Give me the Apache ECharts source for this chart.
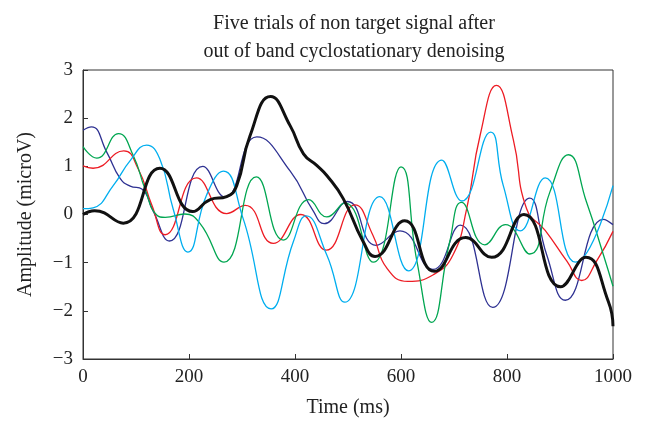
<!DOCTYPE html>
<html>
<head>
<meta charset="utf-8">
<script src="https://cdn.jsdelivr.net/npm/echarts@6/dist/echarts.min.js"></script>
<style>
  html, body { margin: 0; padding: 0; background: #fff; }
  #chart { width: 648px; height: 423px; }
</style>
</head>
<body>
<div id="chart"></div>
<script>
// Five denoised trials, sampled as [time (ms), amplitude (microV)]
const trialNavy = [[0,1.75],[16,1.82],[45,1.29],[70,0.75],[89,0.59],[111,0.53],[132,0.08],[163,-0.55],[226,1.0],[268,0.36],[328,1.61],[391,0.90],[434,0.08],[455,-0.19],[499,0.27],[553,-0.64],[598,-0.34],[660,-1.14],[712,-0.22],[773,-1.93],[843,0.34],[875,-0.84],[910,-1.78],[982,-0.1],[1000,-0.21]];
const trialRed = [[0,1.01],[19,0.96],[77,1.32],[104,0.95],[130,0.19],[155,-0.42],[214,0.76],[271,0.02],[306,0.19],[359,-0.6],[411,0.0],[459,-0.74],[513,0.2],[547,-0.43],[573,-1.11],[613,-1.39],[661,-1.25],[698,-0.84],[724,0.12],[749,1.63],[780,2.68],[812,1.55],[837,0.12],[872,-0.33],[913,-0.97],[941,-1.37],[969,-0.97],[1000,-0.35]];
const trialGreen = [[0,1.41],[26,1.17],[67,1.68],[95,1.22],[117,0.53],[139,-0.01],[155,-0.06],[192,0.01],[221,-0.19],[266,-0.99],[327,0.78],[378,-0.53],[426,0.31],[460,-0.05],[494,0.24],[548,-0.99],[600,0.99],[630,-0.97],[658,-2.24],[692,-0.56],[714,0.25],[758,-0.63],[797,-0.21],[843,-0.82],[881,0.47],[916,1.24],[950,0.26],[982,-0.84],[1000,-1.49]];
const trialCyan = [[0,0.12],[19,0.14],[57,0.6],[89,1.12],[120,1.44],[145,1.15],[170,0.12],[198,-0.78],[233,0.4],[265,0.9],[302,-0.08],[355,-1.96],[397,-0.56],[421,-0.03],[460,-0.84],[494,-1.82],[560,0.37],[614,-1.17],[677,1.13],[715,0.28],[769,1.71],[793,0.6],[825,-0.34],[872,0.76],[929,-0.99],[1000,0.6]];
const trialBlack = [[0,0.0],[22,0.08],[76,-0.18],[145,0.96],[207,0.06],[240,0.31],[271,0.37],[290,0.6],[315,1.63],[354,2.45],[391,1.84],[416,1.26],[441,1.02],[460,0.81],[491,0.33],[528,-0.55],[551,-0.87],[607,-0.13],[663,-1.18],[722,-0.48],[771,-0.89],[832,0.0],[901,-1.5],[949,-0.89],[991,-1.8],[1000,-2.32]];

const xTicks = [0, 200, 400, 600, 800, 1000];
const yTicks = [-3, -2, -1, 0, 1, 2, 3];

const serif = '"Liberation Serif", "DejaVu Serif", serif';
const ink = '#333';
const textInk = '#222';

const chart = echarts.init(document.getElementById('chart'), null, { renderer: 'canvas' });

function trial(data, color, width, z) {
  return {
    type: 'line',
    data: data,
    smooth: 0.5,
    showSymbol: false,
    symbol: 'none',
    z: z,
    lineStyle: { color: color, width: width },
    animation: false
  };
}

chart.setOption({
  backgroundColor: '#fff',
  animation: false,
  title: {
    text: 'Five trials of non target signal after\nout of band cyclostationary denoising',
    left: 349,
    textAlign: 'center',
    top: 5,
    textStyle: {
      fontFamily: serif,
      fontWeight: 'normal',
      fontSize: 20,
      color: textInk,
      lineHeight: 28
    }
  },
  grid: {
    left: 83, right: 35, top: 70, bottom: 62,
    show: true,
    borderColor: ink,
    borderWidth: 1,
    backgroundColor: 'transparent'
  },
  xAxis: {
    type: 'value',
    min: xTicks[0],
    max: xTicks[xTicks.length - 1],
    interval: 200,
    name: 'Time (ms)',
    nameLocation: 'middle',
    nameGap: 39,
    nameTextStyle: { fontFamily: serif, fontSize: 20, color: textInk },
    axisLine: { show: true, onZero: false, lineStyle: { color: ink, width: 1 } },
    axisTick: { show: true, inside: true, length: 5, lineStyle: { color: ink } },
    axisLabel: {
      fontFamily: serif, fontSize: 19, color: textInk, margin: 9,
      formatter: v => String(v)
    },
    splitLine: { show: false }
  },
  yAxis: {
    type: 'value',
    min: yTicks[0],
    max: yTicks[yTicks.length - 1],
    interval: 1,
    name: 'Amplitude (microV)',
    nameLocation: 'middle',
    nameGap: 47,
    nameTextStyle: { fontFamily: serif, fontSize: 20, color: textInk },
    axisLine: { show: true, onZero: false, lineStyle: { color: ink, width: 1 } },
    axisTick: { show: true, inside: true, length: 5, lineStyle: { color: ink } },
    axisLabel: {
      fontFamily: serif, fontSize: 19, color: textInk, margin: 10,
      formatter: v => (v < 0 ? '\u2212' + Math.abs(v) : String(v))
    },
    splitLine: { show: false }
  },
  series: [
    trial(trialNavy, '#2e3192', 1.3, 2),
    trial(trialRed, '#ed1c24', 1.3, 3),
    trial(trialGreen, '#00a651', 1.3, 4),
    trial(trialCyan, '#00aeef', 1.3, 5),
    trial(trialBlack, '#111', 3, 6)
  ]
});
</script>
</body>
</html>
